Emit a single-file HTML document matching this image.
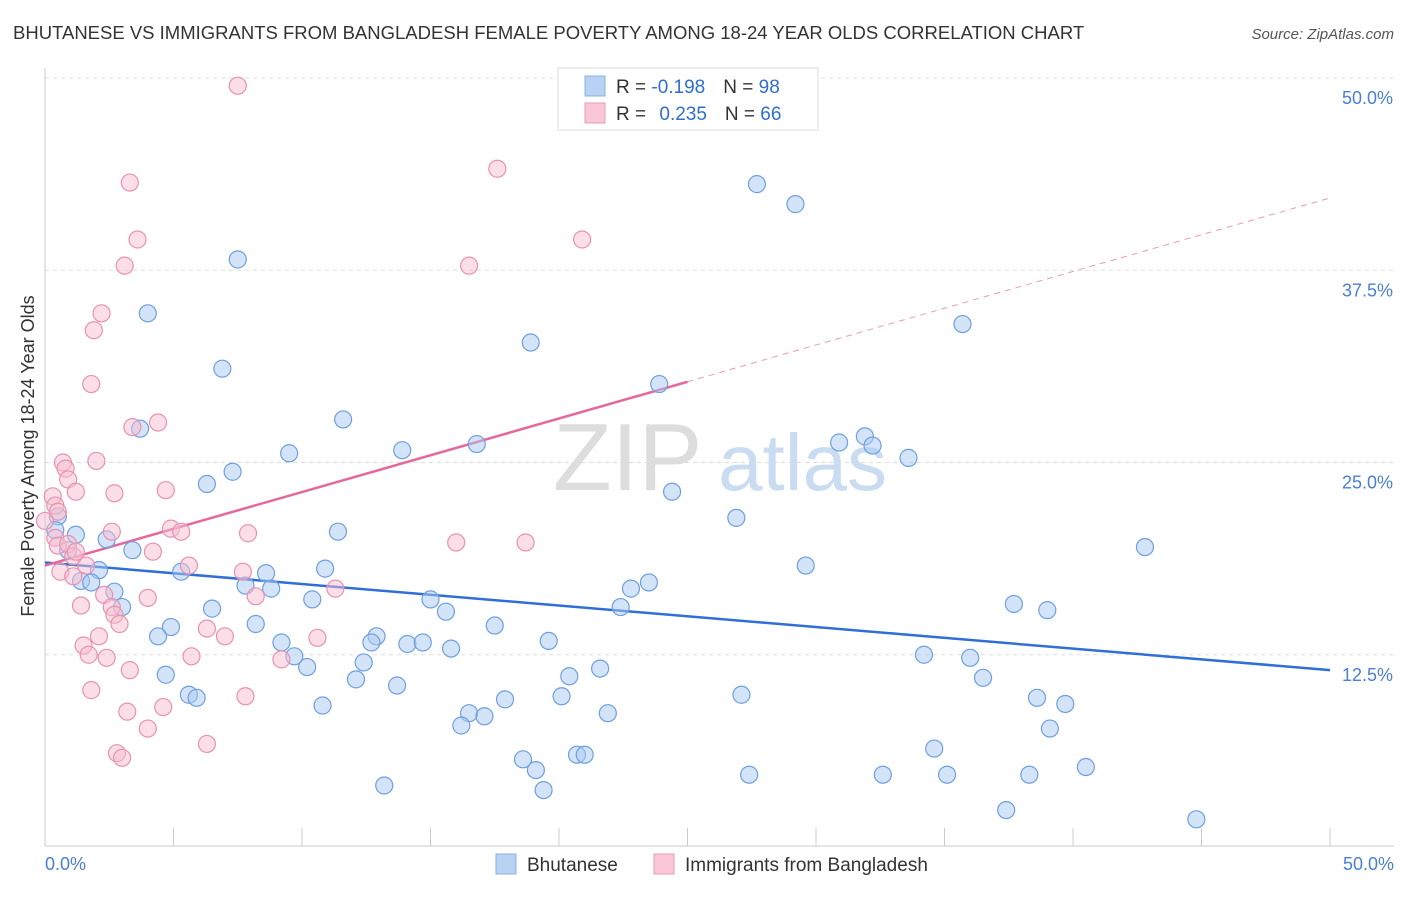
<!DOCTYPE html>
<html><head><meta charset="utf-8">
<style>
body{margin:0;background:#fff;font-family:"Liberation Sans",sans-serif;}
svg text{font-family:"Liberation Sans",sans-serif;}
</style></head><body>
<svg id="chart" width="1406" height="892" xmlns="http://www.w3.org/2000/svg">
<text x="13" y="39" font-size="18.5" fill="#333">BHUTANESE VS IMMIGRANTS FROM BANGLADESH FEMALE POVERTY AMONG 18-24 YEAR OLDS CORRELATION CHART</text>
<text x="1394" y="39" font-size="15" fill="#555" text-anchor="end" font-style="italic">Source: ZipAtlas.com</text>
<g id="grid"></g>
<g id="watermark">
<text x="553" y="490" font-size="96" fill="#ddd" font-family="Liberation Serif">ZIP</text>
<text x="718" y="490" font-size="80" fill="#c9dcf2">atlas</text>
</g>
<g id="axes"></g>
<g id="trend"></g>
<g id="pts"></g>
<text transform="translate(34,456) rotate(-90)" font-size="18" fill="#333" text-anchor="middle">Female Poverty Among 18-24 Year Olds</text>
<text x="45" y="870" font-size="18" fill="#4a7fd4">0.0%</text>
<text x="1394" y="870" font-size="18" fill="#4a7fd4" text-anchor="end">50.0%</text>
<g>
<rect x="558" y="68" width="260" height="62" fill="#fff" stroke="#ddd"/>
<rect x="585" y="76" width="20" height="20" fill="#b8d2f4" stroke="#8ab0e6"/>
<rect x="585" y="103" width="20" height="20" fill="#f9c7d7" stroke="#ec9ab8"/>
<text x="616" y="93" font-size="19" fill="#333">R = <tspan fill="#2e6fd0">-0.198</tspan><tspan dx="18">N = </tspan><tspan fill="#2e6fd0">98</tspan></text>
<text x="616" y="120" font-size="19" fill="#333">R = <tspan fill="#2e6fd0" dx="8">0.235</tspan><tspan dx="18">N = </tspan><tspan fill="#2e6fd0">66</tspan></text>
</g>
<g>
<rect x="496" y="854" width="20" height="20" fill="#b8d2f4" stroke="#8ab0e6"/>
<text x="527" y="871" font-size="19" fill="#333">Bhutanese</text>
<rect x="654" y="854" width="20" height="20" fill="#f9c7d7" stroke="#ec9ab8"/>
<text x="685" y="871" font-size="19" fill="#333">Immigrants from Bangladesh</text>
</g>
</svg>
<script>
const yTicks=[12.5,25,37.5,50];
const yTickLabels=["12.5%","25.0%","37.5%","50.0%"];
const xTicks=[0,5,10,15,20,25,30,35,40,45,50];
const blueX=[27.7,29.2,7.5,35.7,4.0,18.9,6.9,23.9,11.6,3.7,16.8,13.9,9.5,30.9,31.9,32.2,33.6,7.3,6.3,24.4,26.9,11.4,0.5,1.2,0.4,0.9,2.4,3.4,42.8,29.6,5.3,8.6,10.9,2.1,1.4,1.8,2.7,7.8,8.8,23.5,22.8,15.0,10.4,3.0,6.5,15.6,22.4,37.7,39.0,4.9,8.2,4.4,17.5,12.9,12.7,19.6,9.2,14.1,14.7,15.8,9.7,10.2,12.4,4.7,20.4,21.6,34.2,36.0,36.5,12.1,13.7,5.6,5.9,27.1,20.1,17.9,38.6,39.7,10.8,21.9,16.5,17.1,16.2,39.1,34.6,20.7,21.0,18.6,19.1,27.4,32.6,35.1,38.3,40.5,13.2,19.4,37.4,44.8];
const blueY=[43.1,41.8,38.2,34.0,34.7,32.8,31.1,30.1,27.8,27.2,26.2,25.8,25.6,26.3,26.7,26.1,25.3,24.4,23.6,23.1,21.4,20.5,21.5,20.3,20.6,19.3,20.0,19.3,19.5,18.3,17.9,17.8,18.1,18.0,17.3,17.2,16.6,17.0,16.8,17.2,16.8,16.1,16.1,15.6,15.5,15.3,15.6,15.8,15.4,14.3,14.5,13.7,14.4,13.7,13.3,13.4,13.3,13.2,13.3,12.9,12.4,11.7,12.0,11.2,11.1,11.6,12.5,12.3,11.0,10.9,10.5,9.9,9.7,9.9,9.8,9.6,9.7,9.3,9.2,8.7,8.7,8.5,7.9,7.7,6.4,6.0,6.0,5.7,5.0,4.7,4.7,4.7,4.7,5.2,4.0,3.7,2.4,1.8];
const pinkX=[7.5,17.6,3.3,3.6,20.9,3.1,16.5,2.2,1.9,1.8,4.4,3.4,2.0,0.7,0.8,0.9,1.2,4.7,2.7,0.3,0.4,0.5,0.0,4.9,5.3,2.6,7.9,0.4,0.5,0.9,1.1,1.2,4.2,16.0,18.7,1.6,5.6,7.7,0.6,1.1,2.3,8.2,4.0,11.3,2.6,1.4,2.7,2.9,6.3,7.0,2.1,10.6,1.5,1.7,5.7,2.4,9.2,3.3,1.8,7.8,4.6,3.2,4.0,6.3,2.8,3.0];
const pinkY=[49.5,44.1,43.2,39.5,39.5,37.8,37.8,34.7,33.6,30.1,27.6,27.3,25.1,25.0,24.6,23.9,23.1,23.2,23.0,22.8,22.2,21.8,21.2,20.7,20.5,20.5,20.4,20.1,19.6,19.7,18.9,19.2,19.2,19.8,19.8,18.3,18.3,17.9,17.9,17.6,16.4,16.3,16.2,16.8,15.6,15.7,15.1,14.5,14.2,13.7,13.7,13.6,13.1,12.5,12.4,12.3,12.2,11.5,10.2,9.8,9.1,8.8,7.7,6.7,6.1,5.8];
const blueTrend=[18.5,11.5];
const pinkTrend=[18.3,42.2];
const pinkSolidEnd=25;

const NS="http://www.w3.org/2000/svg";
const X=v=>45+v*25.7;
const Y=v=>847-v*15.38;
function mk(tag,attrs,parent){const e=document.createElementNS(NS,tag);for(const k in attrs)e.setAttribute(k,attrs[k]);parent.appendChild(e);return e;}
const grid=document.getElementById('grid'),axes=document.getElementById('axes'),trend=document.getElementById('trend'),pts=document.getElementById('pts');
yTicks.forEach((t,i)=>{
  const l=mk('line',{x1:45,x2:1394,y1:Y(t),y2:Y(t),stroke:'#ddd','stroke-dasharray':'4,4'},grid);
  
  
  const tx=mk('text',{x:1393,y:Y(t)+26,'font-size':18,fill:'#4a7fd4','text-anchor':'end'},grid);
  tx.textContent=yTickLabels[i];
  
  
});
const ax=mk('line',{x1:45,x2:1394,y1:846,y2:846,stroke:'#ccc'},axes);


const ay=mk('line',{x1:45,x2:45,y1:68,y2:846,stroke:'#ccc'},axes);


xTicks.forEach(t=>{
  const l=mk('line',{x1:X(t),x2:X(t),y1:828,y2:846,stroke:'#ccc'},axes);
  
  
});
function dot(x,y,fill,stroke,name){
  const c=mk('circle',{cx:X(x),cy:Y(y),r:8.5,fill:fill,'fill-opacity':0.5,stroke:stroke,'stroke-width':1.2},pts);
  
  
}
blueX.forEach((x,i)=>dot(x,blueY[i],'#a9c9f2','#6f9fe0','bhutanese-point'));
pinkX.forEach((x,i)=>dot(x,pinkY[i],'#f7bdd0','#e892b1','bangladesh-point'));
const bl=mk('line',{x1:X(0),y1:Y(blueTrend[0]),x2:X(50),y2:Y(blueTrend[1]),stroke:'#2f6fd6','stroke-width':2.5},trend);


const pm=pinkTrend[0]+(pinkTrend[1]-pinkTrend[0])*pinkSolidEnd/50;
const pl=mk('line',{x1:X(0),y1:Y(pinkTrend[0]),x2:X(pinkSolidEnd),y2:Y(pm),stroke:'#e4699a','stroke-width':2.5},trend);


const pd=mk('line',{x1:X(pinkSolidEnd),y1:Y(pm),x2:X(50),y2:Y(pinkTrend[1]),stroke:'#e89ab8','stroke-width':1,'stroke-dasharray':'6,5'},trend);


</script>
</body></html>
